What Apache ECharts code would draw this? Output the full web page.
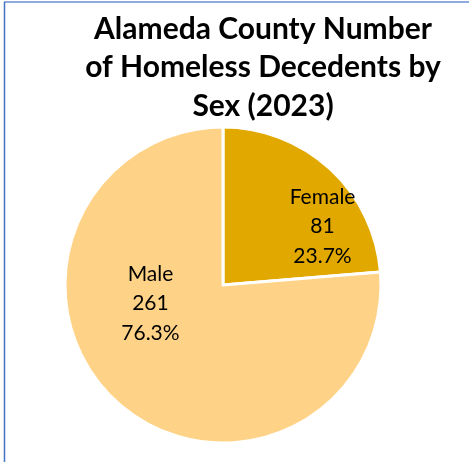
<!DOCTYPE html>
<html>
<head>
<meta charset="utf-8">
<script src="https://cdn.jsdelivr.net/npm/echarts@6/dist/echarts.min.js"></script>
<style>
  html, body { margin: 0; padding: 0; background: #fff; }
  #chart { width: 469px; height: 462px; }
</style>
</head>
<body>
<div id="chart"></div>
<script>
// Decedents by sex, Alameda County 2023
const categories = ['Female', 'Male'];
const counts = [81, 261];
const sliceColors = ['#E1A800', '#FFD387'];

const titleText = 'Alameda County Number\nof Homeless Decedents by\nSex (2023)';

const chart = echarts.init(document.getElementById('chart'), null, { renderer: 'canvas' });

const total = counts.reduce((a, b) => a + b, 0);
const data = categories.map((name, i) => ({
  name,
  value: counts[i],
  itemStyle: { color: sliceColors[i] },
  label: { offset: i === 0 ? [44, 2] : [-17, -42] }
}));

chart.setOption({
  animation: false,
  backgroundColor: '#fff',
  title: {
    text: titleText,
    left: 258,
    top: 5,
    textAlign: 'center',
    textStyle: {
      fontFamily: 'Lato',
      fontWeight: 'bold',
      fontSize: 30,
      lineHeight: 38.5,
      color: '#000'
    }
  },
  graphic: [
    { type: 'line', shape: { x1: 4, y1: 2, x2: 469, y2: 2 }, style: { stroke: '#8FAADC', lineWidth: 2 } },
    { type: 'line', shape: { x1: 4.5, y1: 2, x2: 4.5, y2: 462 }, style: { stroke: '#4472C4', lineWidth: 1.5 } }
  ],
  series: [{
    type: 'pie',
    center: [223, 285],
    radius: [0, 158],
    startAngle: 90,
    clockwise: true,
    data,
    itemStyle: { borderColor: '#fff', borderWidth: 3 },
    label: {
      show: true,
      position: 'inside',
      formatter: p => p.name + '\n' + p.value + '\n' + (p.value / total * 100).toFixed(1) + '%',
      fontFamily: 'Lato',
      fontSize: 21,
      lineHeight: 29.5,
      color: '#000',
      align: 'center'
    },
    labelLine: { show: false },
    emphasis: { disabled: true }
  }]
});
</script>
</body>
</html>
